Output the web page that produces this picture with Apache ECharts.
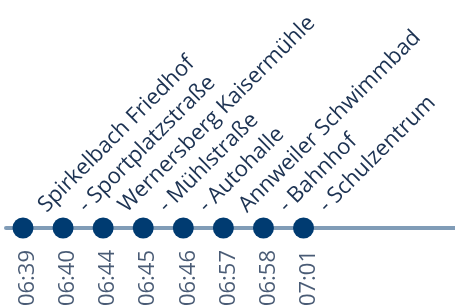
<!DOCTYPE html>
<html>
<head>
<meta charset="utf-8">
<script src="https://cdn.jsdelivr.net/npm/echarts@6/dist/echarts.min.js"></script>
<style>
html, body { margin: 0; padding: 0; background: #fff; }
#timeline { width: 455px; height: 306px; }
</style>
</head>
<body>
<div id="timeline"></div>
<script>
var stops = ["Spirkelbach Friedhof", "- Sportplatzstraße", "Wernersberg Kaisermühle", "- Mühlstraße",
	"- Autohalle", "Annweiler Schwimmbad", "- Bahnhof", "- Schulzentrum"];
var times = ["06:39", "06:40", "06:44", "06:45", "06:46", "06:57", "06:58", "07:01"];
var stopIndex = [0, 1, 2, 3, 4, 5, 6, 7];

var FONT = '"Open Sans", sans-serif';
var TEXT = '#1c3252';

var myChart = echarts.init(document.getElementById("timeline"));
var points = [];
for (var i = 0; i < stopIndex.length; i++) {
	points.push([stopIndex[i], 0]);
}

var option = {
	animation: false,
	grid: { left: 6, right: 0, top: 200, height: 56 },
	xAxis: {
		type: 'value',
		min: -0.424,
		max: 10.78,
		axisLine: { show: true, onZero: true, lineStyle: { color: '#809cb7', width: 4 } },
		axisTick: { show: false },
		axisLabel: { show: false },
		splitLine: { show: false }
	},
	yAxis: { type: 'value', min: -1, max: 1, show: false },
	series: [{
		// stations above the line
		type: 'line',
		data: points,
		symbol: 'circle',
		symbolSize: 21,
		lineStyle: { width: 0 },
		itemStyle: { color: '#003b71' },
		label: {
			show: true,
			position: 'inside',
			offset: [27, 0],
			rotate: 45,
			align: 'left',
			verticalAlign: 'middle',
			fontFamily: FONT,
			fontSize: 22,
			color: TEXT,
			formatter: function (p) { return stops[p.dataIndex]; }
		}
	}, {
		// times below the line
		type: 'scatter',
		data: points,
		symbolSize: 0,
		silent: true,
		label: {
			show: true,
			position: 'inside',
			offset: [-22, 5],
			rotate: 90,
			align: 'right',
			verticalAlign: 'middle',
			fontFamily: FONT,
			fontSize: 22,
			color: TEXT,
			formatter: function (p) { return times[p.dataIndex]; }
		}
	}]
};
myChart.setOption(option, true);
</script>
</body>
</html>
